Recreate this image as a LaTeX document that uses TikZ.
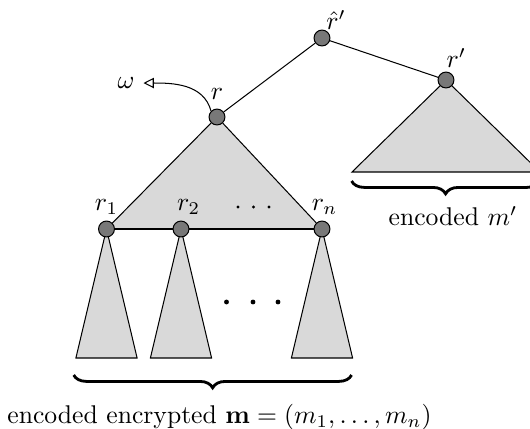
\documentclass[tikz,border=0pt]{standalone}
\usetikzlibrary{positioning, arrows.meta, decorations.pathreplacing, backgrounds}
\definecolor{treegray}{RGB}{217,217,217}
\definecolor{rootgray}{RGB}{120,120,120}
\tikzstyle{vertex}=[circle, minimum size = 6.2pt, inner sep=0pt, draw=black, fill=rootgray]
\tikzstyle{subtree}=[fill=treegray, draw=black, line width=0.4pt]
\tikzstyle{bigdot}=[circle, fill=black, inner sep=0pt, minimum size=1.9pt]
\tikzstyle{smalldot}=[circle, fill=black, inner sep=0pt, minimum size=1.2pt]
\tikzstyle{under}=[decorate, decoration={brace, mirror, amplitude=5pt}, line width=1.1pt]

\begin{document}
\begin{tikzpicture}[x=0.39pt, y=-0.39pt]
            \useasboundingbox (0,0) rectangle (530,428);
            \clip (0,0) rectangle (530,428);
            % roots
            \node[vertex] (rh) at (322,38) {};
            \node[vertex] (rp) at (446,80) {};
            \node[vertex] (r) at (217,117) {};
            \node[vertex] (r1) at (106.5,229) {};
            \node[vertex] (r2) at (181,229) {};
            \node[vertex] (rn) at (322,229) {};
            \draw (rh) -- (r);
            \draw (rh) -- (rp);
            \draw (r) -- (r1);
            \draw (r) -- (rn);
            \draw (r1) -- (r2);
            \draw (r2) -- (rn);
            % labels
            \node[above=-3.5pt of rh, xshift=5.5pt] (lrh) {$\hat{r}'$};
            \node[above=-2pt of rp, xshift=4pt] (lrp) {$r'$};
            \node[above=0pt of r] (lr) {$r$};
            \node[above=-1pt of r1] (lr1) {$r_1$};
            \node[above=-1pt of r2, xshift=3pt] (lr2) {$r_2$};
            \node[above=-1pt of rn, xshift=1pt] (lrn) {$r_n$};
            % trees
            \begin{scope}[on background layer]
                \fill[treegray] (r.center) -- (r1.center) -- (rn.center) -- cycle;
                \draw[subtree] (rp.center) -- ++(-94,92) -- ++(188,0) -- cycle;
                \foreach \n in {1,2,n}{
                    \draw[subtree] (r\n.center) -- ++(-30.6,129) -- ++(61.2,0) -- cycle;
                }
            \end{scope}
            % dots
            \foreach \x [count=\i] in {238,253.5,269}{
                \node[smalldot] (cd\i) at (\x,207) {};
            }
            \foreach \x [count=\i] in {226.5,253,278}{
                \node[bigdot] (bd\i) at (\x,302) {};
            }
            % omega
            \coordinate (wtip) at (143.5,83);
            \node[left=0pt of wtip] (w) {$\omega$};
            \draw[-{Triangle[open, length=4pt, width=4pt]}] (r.north west) to[out=105, in=0] (wtip);
            % braces
            \coordinate (bl) at (73.7,375);
            \coordinate (br) at (351.6,375);
            \draw[under] (bl) -- (br);
            \node (enc) at (219.5,417) {encoded encrypted $\mathbf{m}=(m_1,\ldots,m_n)$};
            \coordinate (pl) at (351.6,181);
            \coordinate (pr) at (539.6,181);
            \draw[under] (pl) -- (pr);
            \node (encp) at (453,216) {encoded $m'$};
\end{tikzpicture}
\end{document}
